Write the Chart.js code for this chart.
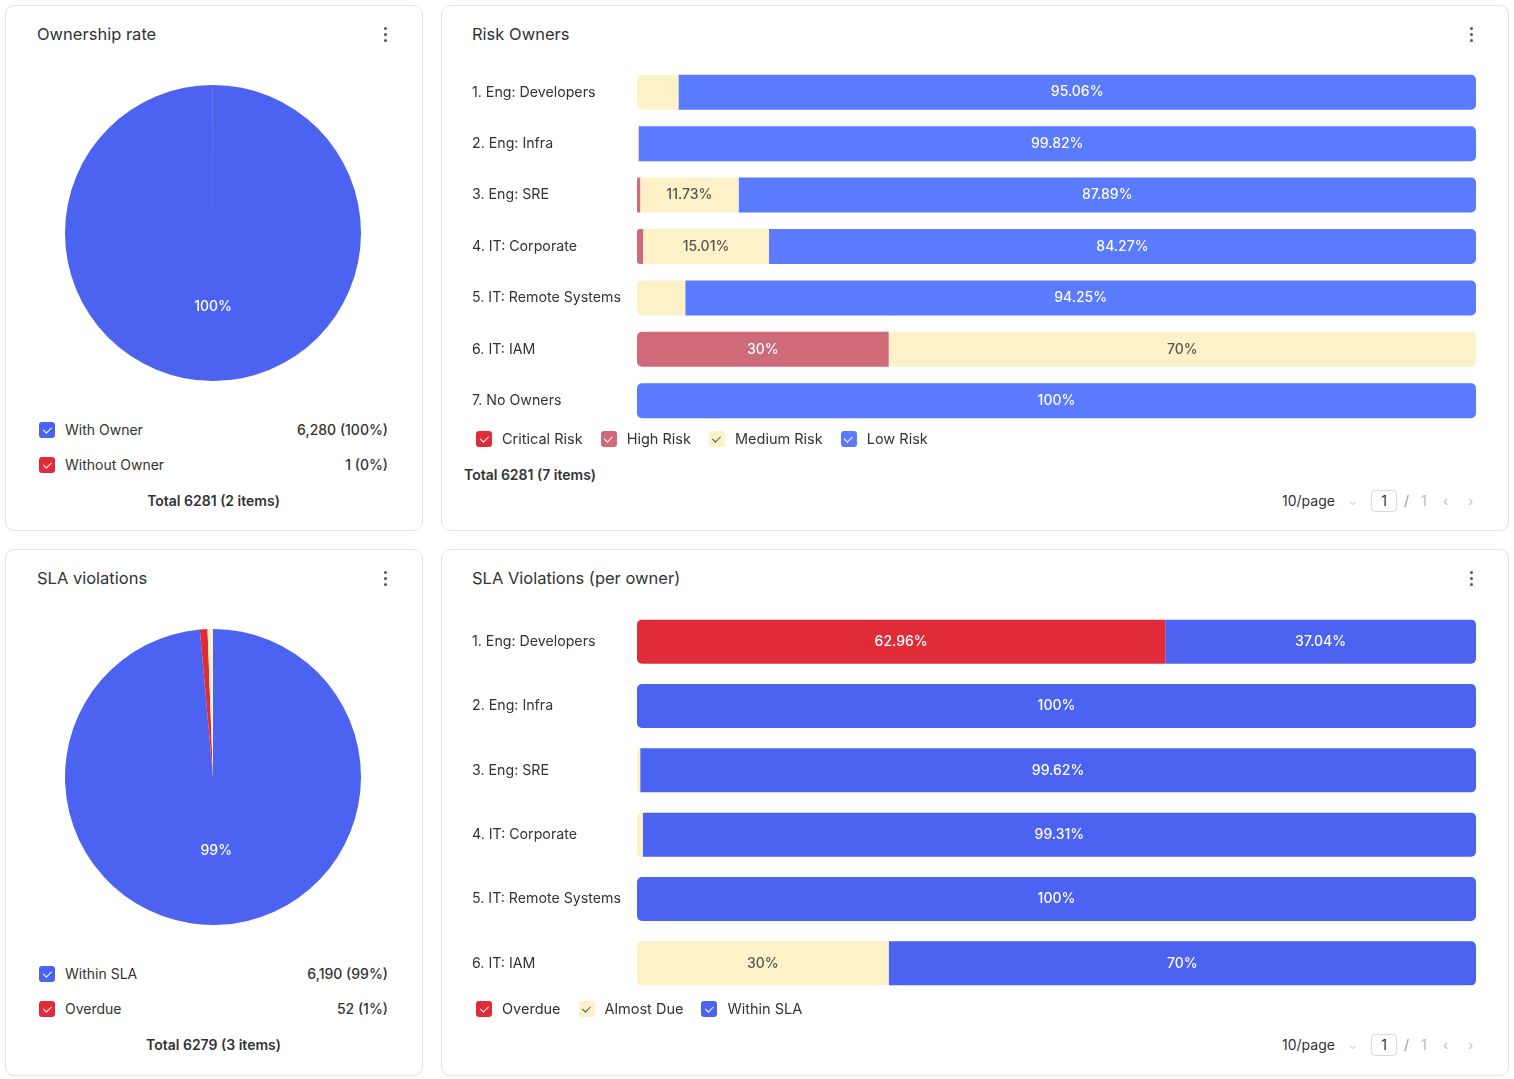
<!DOCTYPE html>
<html><head><meta charset="utf-8">
<script src="https://cdn.jsdelivr.net/npm/chart.js@4/dist/chart.umd.min.js"></script>
<style>
html,body{margin:0;padding:0;background:#fff}
body{font-family:Inter,'Noto Sans',sans-serif;color:#333;width:1514px;height:1079px;position:relative;overflow:hidden}
.panel{position:absolute;border:1px solid #dfe2ea;border-radius:9px;background:#fff;box-sizing:border-box}
.abs{position:absolute;white-space:nowrap}
.title{font-size:16.5px;line-height:20px;color:#333}
.kebab{position:absolute;width:3px}
.kebab i{display:block;width:3px;height:3px;border-radius:50%;background:#555;margin-bottom:3px}
.cb{display:inline-block;width:16px;height:16px;border-radius:3px;position:relative;box-sizing:border-box}
.cb::after{content:'';position:absolute;left:5.5px;top:3px;width:3.5px;height:7px;border:solid var(--ck,#fff);border-width:0 1.7px 1.7px 0;transform:rotate(45deg)}
.row{position:absolute;display:flex;align-items:center;font-size:14px;line-height:18px}
.row .cb{margin-right:10px}
.row .val{margin-left:auto;font-weight:500}
.legend{position:absolute;display:flex;align-items:center;font-size:14.5px;line-height:18px;color:#333}
.legend .item{display:flex;align-items:center;margin-right:18px}
.legend .cb{margin-right:10px}
.total{font-size:14px;font-weight:600;line-height:18px;color:#333}
.pager{position:absolute;font-size:14px;line-height:22px;color:#333}
.pager span{position:absolute;top:0}
.pbox{border:1px solid #d9d9d9;border-radius:4px;width:26px;height:22px;box-sizing:border-box;text-align:center;line-height:20px}
canvas{display:block}
</style>
</head>
<body>
<script>
// ---------- DATA ----------
const ownershipLabels = ['With Owner', 'Without Owner'];
const ownershipValues = [6280, 1];

const slaPieLabels = ['Within SLA', 'Overdue', 'Almost Due'];
const slaPieValues = [6190, 52, 37];
const slaPieLegendCount = 2;

const riskCategories = ['1. Eng: Developers', '2. Eng: Infra', '3. Eng: SRE', '4. IT: Corporate', '5. IT: Remote Systems', '6. IT: IAM', '7. No Owners'];
const riskSeries = ['Critical Risk', 'High Risk', 'Medium Risk', 'Low Risk'];
const criticalRisk = [0, 0, 0, 0, 0, 0, 0];
const highRisk = [0, 0, 0.38, 0.72, 0, 30, 0];
const mediumRisk = [4.94, 0.18, 11.73, 15.01, 5.75, 70, 0];
const lowRisk = [95.06, 99.82, 87.89, 84.27, 94.25, 0, 100];
const riskTotal = 6281;

const slaCategories = ['1. Eng: Developers', '2. Eng: Infra', '3. Eng: SRE', '4. IT: Corporate', '5. IT: Remote Systems', '6. IT: IAM'];
const slaSeries = ['Overdue', 'Almost Due', 'Within SLA'];
const overdue = [62.96, 0, 0, 0, 0, 0];
const almostDue = [0, 0, 0.38, 0.69, 0, 30];
const withinSla = [37.04, 100, 99.62, 99.31, 100, 70];

// ---------- STYLES ----------
const C_BLUE = '#4c63f1';
const C_BLUE_L = '#5a7aff';
const C_RED = '#e02b38';
const C_HIGH = '#cf6a79';
const C_YEL = '#fdf1c8';
</script>

<!-- panels -->
<div class="panel" style="left:5px;top:5px;width:418px;height:526px"></div>
<div class="panel" style="left:441px;top:5px;width:1068px;height:526px"></div>
<div class="panel" style="left:5px;top:549px;width:418px;height:527px"></div>
<div class="panel" style="left:441px;top:549px;width:1068px;height:527px"></div>

<div class="abs title" style="left:37px;top:24px">Ownership rate</div>
<div class="abs title" style="left:472px;top:24px">Risk Owners</div>
<div class="abs title" style="left:37px;top:568px">SLA violations</div>
<div class="abs title" style="left:472px;top:568px">SLA Violations (per owner)</div>

<div class="kebab" style="left:384px;top:27px"><i></i><i></i><i></i></div>
<div class="kebab" style="left:1470px;top:27px"><i></i><i></i><i></i></div>
<div class="kebab" style="left:384px;top:571px"><i></i><i></i><i></i></div>
<div class="kebab" style="left:1470px;top:571px"><i></i><i></i><i></i></div>

<div class="abs" style="left:65px;top:85px;width:296px;height:296px"><canvas id="pie1" width="296" height="296"></canvas></div>
<div class="abs" style="left:65px;top:629px;width:296px;height:296px"><canvas id="pie2" width="296" height="296"></canvas></div>
<div class="abs" style="left:472px;top:58px;width:1004px;height:377px"><canvas id="bar1" width="1004" height="377"></canvas></div>
<div class="abs" style="left:472px;top:601px;width:1004px;height:403px"><canvas id="bar2" width="1004" height="403"></canvas></div>

<div id="pieLeg1"></div>
<div id="pieLeg2"></div>
<div id="barLeg1" class="legend" style="left:476px;top:430px"></div>
<div id="barLeg2" class="legend" style="left:476px;top:1000px"></div>
<div id="tot3" class="abs total" style="left:464px;top:466px"></div>

<div class="pager" style="left:0;top:490px;width:1514px;height:22px">
  <span style="left:1282px">10/page</span>
  <span style="left:1349px;color:#c4c4c4;font-size:10px">&#8964;</span>
  <span class="pbox" style="left:1371px">1</span>
  <span style="left:1404px;color:#999">/</span>
  <span style="left:1421px;color:#bbb">1</span>
  <span style="left:1443px;color:#c4c4c4">&#8249;</span>
  <span style="left:1468px;color:#c4c4c4">&#8250;</span>
</div>
<div class="pager" style="left:0;top:1034px;width:1514px;height:22px">
  <span style="left:1282px">10/page</span>
  <span style="left:1349px;color:#c4c4c4;font-size:10px">&#8964;</span>
  <span class="pbox" style="left:1371px">1</span>
  <span style="left:1404px;color:#999">/</span>
  <span style="left:1421px;color:#bbb">1</span>
  <span style="left:1443px;color:#c4c4c4">&#8249;</span>
  <span style="left:1468px;color:#c4c4c4">&#8250;</span>
</div>

<script>
Chart.defaults.font.family = "Inter, 'Noto Sans', sans-serif";
Chart.defaults.color = '#333';

const sum = a => a.reduce((s, v) => s + v, 0);
const fmtPct = v => (+v.toFixed(2)) + '%';

function pieLegend(el, labels, values, colors, count, top) {
  const total = sum(values);
  let html = '';
  for (let i = 0; i < count; i++) {
    const pct = Math.round(values[i] / total * 100);
    html += `<div class="row" style="left:39px;top:${top + i * 35 - 9}px;width:349px">
      <span class="cb" style="background:${colors[i]}"></span><span>${labels[i]}</span>
      <span class="val">${values[i].toLocaleString('en-US')} (${pct}%)</span></div>`;
  }
  html += `<div class="abs total" style="left:5px;width:417px;text-align:center;top:${top + 71 - 9}px">Total ${total} (${values.length} items)</div>`;
  el.innerHTML = html;
}

function barLegend(el, names, colors, checkColors) {
  el.innerHTML = names.map((n, i) =>
    `<div class="item"><span class="cb" style="background:${colors[i]};--ck:${checkColors[i]}"></span>${n}</div>`).join('');
}

const pieLabelPlugin = {
  id: 'pieLabels',
  afterDatasetsDraw(chart) {
    const ctx = chart.ctx;
    const ds = chart.data.datasets[0];
    const total = sum(ds.data);
    chart.getDatasetMeta(0).data.forEach((arc, i) => {
      const pct = ds.data[i] / total * 100;
      if (pct < 5) return;
      const p = arc.tooltipPosition();
      ctx.save();
      ctx.fillStyle = '#fff';
      ctx.font = "500 14px Inter, 'Noto Sans', sans-serif";
      ctx.textAlign = 'center';
      ctx.textBaseline = 'middle';
      ctx.fillText(Math.round(pct) + '%', p.x, p.y);
      ctx.restore();
    });
  }
};

const barLabelPlugin = {
  id: 'barLabels',
  afterDatasetsDraw(chart) {
    const ctx = chart.ctx;
    chart.data.datasets.forEach((ds, di) => {
      const meta = chart.getDatasetMeta(di);
      meta.data.forEach((bar, i) => {
        const v = ds.data[i];
        if (v < 10) return;
        const { x, y, base } = bar.getProps(['x', 'y', 'base'], true);
        ctx.save();
        ctx.fillStyle = ds.labelColor;
        ctx.font = "500 14px Inter, 'Noto Sans', sans-serif";
        ctx.textAlign = 'center';
        ctx.textBaseline = 'middle';
        ctx.fillText(fmtPct(v), (x + base) / 2, y);
        ctx.restore();
      });
    });
  }
};

function makePie(id, labels, values, colors) {
  new Chart(document.getElementById(id), {
    type: 'pie',
    data: { labels, datasets: [{ data: values, backgroundColor: colors, borderWidth: 0 }] },
    options: {
      responsive: false, animation: false,
      layout: { padding: 0 },
      plugins: { legend: { display: false }, tooltip: { enabled: false } }
    },
    plugins: [pieLabelPlugin]
  });
}

function radiusFn(allSeries) {
  return ctx => {
    const i = ctx.dataIndex, di = ctx.datasetIndex;
    const nz = allSeries.map((s, k) => s[i] > 0 ? k : -1).filter(k => k >= 0);
    const first = nz[0], last = nz[nz.length - 1];
    const r = 5;
    return {
      topLeft: di === first ? r : 0, bottomLeft: di === first ? r : 0,
      topRight: di === last ? r : 0, bottomRight: di === last ? r : 0
    };
  };
}

function makeBar(id, cats, seriesNames, seriesData, colors, labelColors, barPct) {
  new Chart(document.getElementById(id), {
    type: 'bar',
    data: {
      labels: cats,
      datasets: seriesNames.map((n, k) => ({
        label: n, data: seriesData[k], backgroundColor: colors[k],
        labelColor: labelColors[k], borderWidth: 0, borderSkipped: false,
        borderRadius: radiusFn(seriesData),
        barPercentage: barPct, categoryPercentage: 1
      }))
    },
    options: {
      indexAxis: 'y', responsive: false, animation: false,
      layout: { padding: 0 },
      scales: {
        x: { stacked: true, min: 0, max: 100, display: false },
        y: {
          stacked: true,
          grid: { display: false }, border: { display: false },
          ticks: { crossAlign: 'far', padding: 0, color: '#333', font: { size: 14.2 } },
          afterFit: s => { s.width = 165; }
        }
      },
      plugins: { legend: { display: false }, tooltip: { enabled: false } }
    },
    plugins: [barLabelPlugin]
  });
}

const ownColors = [C_BLUE, C_RED];
const slaPieColors = [C_BLUE, C_RED, C_YEL];
pieLegend(document.getElementById('pieLeg1'), ownershipLabels, ownershipValues, ownColors, ownershipLabels.length, 430);
pieLegend(document.getElementById('pieLeg2'), slaPieLabels, slaPieValues, slaPieColors, slaPieLegendCount, 974);
makePie('pie1', ownershipLabels, ownershipValues, ownColors);
makePie('pie2', slaPieLabels, slaPieValues, slaPieColors);

const riskColors = [C_RED, C_HIGH, C_YEL, C_BLUE_L];
const riskLabelColors = ['#fff', '#fff', '#555', '#fff'];
makeBar('bar1', riskCategories, riskSeries, [criticalRisk, highRisk, mediumRisk, lowRisk], riskColors, riskLabelColors, 0.68);
barLegend(document.getElementById('barLeg1'), riskSeries, riskColors, ['#fff', '#fff', '#555', '#fff']);
document.getElementById('tot3').textContent = `Total ${riskTotal} (${riskCategories.length} items)`;

const slaColors = [C_RED, C_YEL, C_BLUE];
const slaLabelColors = ['#fff', '#555', '#fff'];
makeBar('bar2', slaCategories, slaSeries, [overdue, almostDue, withinSla], slaColors, slaLabelColors, 0.685);
barLegend(document.getElementById('barLeg2'), slaSeries, slaColors, ['#fff', '#555', '#fff']);
</script>
</body></html>
